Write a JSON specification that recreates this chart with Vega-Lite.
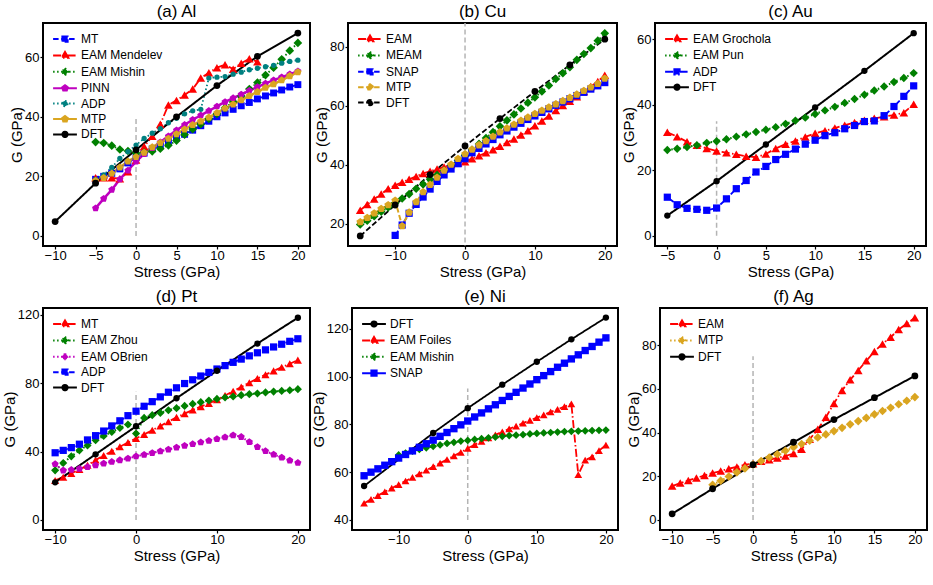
{
"$schema": "https://vega.github.io/schema/vega-lite/v6.json",
"background": "white",
"padding": {"left": 1, "top": 2, "right": 0, "bottom": 0},
"datasets": {
"A": [
{"s":"MT","x":-5,"g":19},{"s":"MT","x":-4,"g":20},{"s":"MT","x":-3,"g":21},{"s":"MT","x":-2,"g":22.5},{"s":"MT","x":-1,"g":24.5},{"s":"MT","x":0,"g":26.3},{"s":"MT","x":1,"g":27.8},{"s":"MT","x":2,"g":29.2},{"s":"MT","x":3,"g":30.5},{"s":"MT","x":4,"g":31.7},{"s":"MT","x":5,"g":32.9},{"s":"MT","x":6,"g":34.1},{"s":"MT","x":7,"g":35.5},{"s":"MT","x":8,"g":37},{"s":"MT","x":9,"g":38.5},{"s":"MT","x":10,"g":40},{"s":"MT","x":11,"g":41.3},{"s":"MT","x":12,"g":42.5},{"s":"MT","x":13,"g":43.7},{"s":"MT","x":14,"g":44.8},{"s":"MT","x":15,"g":46},{"s":"MT","x":16,"g":47},{"s":"MT","x":17,"g":48},{"s":"MT","x":18,"g":49},{"s":"MT","x":19,"g":50},{"s":"MT","x":20,"g":50.8},
{"s":"EAM Mendelev","x":-5,"g":19.5},{"s":"EAM Mendelev","x":-4,"g":19.5},{"s":"EAM Mendelev","x":-3,"g":19.5},{"s":"EAM Mendelev","x":-2,"g":19.2},{"s":"EAM Mendelev","x":-1,"g":21.5},{"s":"EAM Mendelev","x":0,"g":25.5},{"s":"EAM Mendelev","x":1,"g":30},{"s":"EAM Mendelev","x":2,"g":33.5},{"s":"EAM Mendelev","x":3,"g":37.5},{"s":"EAM Mendelev","x":4,"g":44},{"s":"EAM Mendelev","x":5,"g":45.5},{"s":"EAM Mendelev","x":6,"g":47.3},{"s":"EAM Mendelev","x":7,"g":49.3},{"s":"EAM Mendelev","x":8,"g":53},{"s":"EAM Mendelev","x":9,"g":54.8},{"s":"EAM Mendelev","x":10,"g":56.5},{"s":"EAM Mendelev","x":11,"g":57.5},{"s":"EAM Mendelev","x":12,"g":56},{"s":"EAM Mendelev","x":13,"g":58},{"s":"EAM Mendelev","x":14,"g":59.5},{"s":"EAM Mendelev","x":15,"g":58.5},
{"s":"EAM Mishin","x":-5,"g":31.5},{"s":"EAM Mishin","x":-4,"g":31.2},{"s":"EAM Mishin","x":-3,"g":30.3},{"s":"EAM Mishin","x":-2,"g":29},{"s":"EAM Mishin","x":-1,"g":28.5},{"s":"EAM Mishin","x":0,"g":27.8},{"s":"EAM Mishin","x":1,"g":28},{"s":"EAM Mishin","x":2,"g":28.4},{"s":"EAM Mishin","x":3,"g":29.3},{"s":"EAM Mishin","x":4,"g":30.4},{"s":"EAM Mishin","x":5,"g":32},{"s":"EAM Mishin","x":6,"g":34},{"s":"EAM Mishin","x":7,"g":35.8},{"s":"EAM Mishin","x":8,"g":37.5},{"s":"EAM Mishin","x":9,"g":39.3},{"s":"EAM Mishin","x":10,"g":41},{"s":"EAM Mishin","x":11,"g":43},{"s":"EAM Mishin","x":12,"g":45},{"s":"EAM Mishin","x":13,"g":47},{"s":"EAM Mishin","x":14,"g":49.3},{"s":"EAM Mishin","x":15,"g":51.5},{"s":"EAM Mishin","x":16,"g":54},{"s":"EAM Mishin","x":17,"g":56.5},{"s":"EAM Mishin","x":18,"g":59.3},{"s":"EAM Mishin","x":19,"g":62.2},{"s":"EAM Mishin","x":20,"g":64.8},
{"s":"PINN","x":-5,"g":9.3},{"s":"PINN","x":-4,"g":12.5},{"s":"PINN","x":-3,"g":15.5},{"s":"PINN","x":-2,"g":19},{"s":"PINN","x":-1,"g":22},{"s":"PINN","x":0,"g":25},{"s":"PINN","x":1,"g":27.5},{"s":"PINN","x":2,"g":29.5},{"s":"PINN","x":3,"g":31.5},{"s":"PINN","x":4,"g":33.5},{"s":"PINN","x":5,"g":35.5},{"s":"PINN","x":6,"g":37.3},{"s":"PINN","x":7,"g":39},{"s":"PINN","x":8,"g":40.5},{"s":"PINN","x":9,"g":42},{"s":"PINN","x":10,"g":43.5},{"s":"PINN","x":11,"g":45},{"s":"PINN","x":12,"g":46.3},{"s":"PINN","x":13,"g":47.5},{"s":"PINN","x":14,"g":48.8},{"s":"PINN","x":15,"g":50},{"s":"PINN","x":16,"g":51.2},{"s":"PINN","x":17,"g":52.3},{"s":"PINN","x":18,"g":53.3},{"s":"PINN","x":19,"g":54.3},{"s":"PINN","x":20,"g":55.3},
{"s":"ADP","x":-5,"g":19},{"s":"ADP","x":-4,"g":20.5},{"s":"ADP","x":-3,"g":23},{"s":"ADP","x":-2,"g":26},{"s":"ADP","x":-1,"g":28.3},{"s":"ADP","x":0,"g":30.5},{"s":"ADP","x":1,"g":32.7},{"s":"ADP","x":2,"g":34.5},{"s":"ADP","x":3,"g":36},{"s":"ADP","x":4,"g":38},{"s":"ADP","x":5,"g":39.5},{"s":"ADP","x":6,"g":41},{"s":"ADP","x":7,"g":42},{"s":"ADP","x":8,"g":42.5},{"s":"ADP","x":9,"g":53},{"s":"ADP","x":10,"g":53.3},{"s":"ADP","x":11,"g":53.5},{"s":"ADP","x":12,"g":54.3},{"s":"ADP","x":13,"g":55},{"s":"ADP","x":14,"g":55.8},{"s":"ADP","x":15,"g":56.3},{"s":"ADP","x":16,"g":56.8},{"s":"ADP","x":17,"g":57.3},{"s":"ADP","x":18,"g":58},{"s":"ADP","x":19,"g":58.6},{"s":"ADP","x":20,"g":59},
{"s":"MTP","x":-5,"g":18.5},{"s":"MTP","x":-4,"g":19.5},{"s":"MTP","x":-3,"g":21},{"s":"MTP","x":-2,"g":23},{"s":"MTP","x":-1,"g":25},{"s":"MTP","x":0,"g":26.5},{"s":"MTP","x":1,"g":28},{"s":"MTP","x":2,"g":29.8},{"s":"MTP","x":3,"g":31.2},{"s":"MTP","x":4,"g":32.7},{"s":"MTP","x":5,"g":34.2},{"s":"MTP","x":6,"g":35.8},{"s":"MTP","x":7,"g":37.3},{"s":"MTP","x":8,"g":38.5},{"s":"MTP","x":9,"g":39.8},{"s":"MTP","x":10,"g":41.3},{"s":"MTP","x":11,"g":42.8},{"s":"MTP","x":12,"g":44.2},{"s":"MTP","x":13,"g":45.6},{"s":"MTP","x":14,"g":47},{"s":"MTP","x":15,"g":48.4},{"s":"MTP","x":16,"g":49.8},{"s":"MTP","x":17,"g":51},{"s":"MTP","x":18,"g":52.3},{"s":"MTP","x":19,"g":53.7},{"s":"MTP","x":20,"g":55},
{"s":"DFT","x":-10,"g":4.8},{"s":"DFT","x":-5,"g":17.7},{"s":"DFT","x":0,"g":28.9},{"s":"DFT","x":5,"g":40},{"s":"DFT","x":10,"g":50.5},{"s":"DFT","x":15,"g":60.3},{"s":"DFT","x":20,"g":68.1}
],
"B": [
{"s":"EAM","x":-15,"g":24.5},{"s":"EAM","x":-14,"g":26.5},{"s":"EAM","x":-13,"g":28.3},{"s":"EAM","x":-12,"g":30},{"s":"EAM","x":-11,"g":31.8},{"s":"EAM","x":-10,"g":33},{"s":"EAM","x":-9,"g":34},{"s":"EAM","x":-8,"g":35},{"s":"EAM","x":-7,"g":36},{"s":"EAM","x":-6,"g":37},{"s":"EAM","x":-5,"g":37.7},{"s":"EAM","x":-4,"g":38.5},{"s":"EAM","x":-3,"g":39.2},{"s":"EAM","x":-2,"g":40},{"s":"EAM","x":-1,"g":40.5},{"s":"EAM","x":0,"g":41},{"s":"EAM","x":1,"g":42},{"s":"EAM","x":2,"g":43},{"s":"EAM","x":3,"g":44},{"s":"EAM","x":4,"g":45},{"s":"EAM","x":5,"g":46.2},{"s":"EAM","x":6,"g":47.5},{"s":"EAM","x":7,"g":48.7},{"s":"EAM","x":8,"g":50},{"s":"EAM","x":9,"g":51.5},{"s":"EAM","x":10,"g":53.2},{"s":"EAM","x":11,"g":54.8},{"s":"EAM","x":12,"g":56.5},{"s":"EAM","x":13,"g":58.3},{"s":"EAM","x":14,"g":60},{"s":"EAM","x":15,"g":61.5},{"s":"EAM","x":16,"g":63},{"s":"EAM","x":17,"g":64.8},{"s":"EAM","x":18,"g":66.5},{"s":"EAM","x":19,"g":68.2},{"s":"EAM","x":20,"g":70.3},
{"s":"MEAM","x":-15,"g":19.7},{"s":"MEAM","x":-14,"g":21},{"s":"MEAM","x":-13,"g":22.5},{"s":"MEAM","x":-12,"g":24},{"s":"MEAM","x":-11,"g":25.5},{"s":"MEAM","x":-10,"g":27},{"s":"MEAM","x":-9,"g":28.5},{"s":"MEAM","x":-8,"g":30},{"s":"MEAM","x":-7,"g":31.8},{"s":"MEAM","x":-6,"g":33.3},{"s":"MEAM","x":-5,"g":35},{"s":"MEAM","x":-4,"g":36.5},{"s":"MEAM","x":-3,"g":38},{"s":"MEAM","x":-2,"g":39.8},{"s":"MEAM","x":-1,"g":41.5},{"s":"MEAM","x":0,"g":43.2},{"s":"MEAM","x":1,"g":45},{"s":"MEAM","x":2,"g":47},{"s":"MEAM","x":3,"g":49},{"s":"MEAM","x":4,"g":51},{"s":"MEAM","x":5,"g":53},{"s":"MEAM","x":6,"g":55},{"s":"MEAM","x":7,"g":57},{"s":"MEAM","x":8,"g":59},{"s":"MEAM","x":9,"g":61},{"s":"MEAM","x":10,"g":62.8},{"s":"MEAM","x":11,"g":64.8},{"s":"MEAM","x":12,"g":66.8},{"s":"MEAM","x":13,"g":69},{"s":"MEAM","x":14,"g":71},{"s":"MEAM","x":15,"g":73},{"s":"MEAM","x":16,"g":75.5},{"s":"MEAM","x":17,"g":77.5},{"s":"MEAM","x":18,"g":79.5},{"s":"MEAM","x":19,"g":82},{"s":"MEAM","x":20,"g":84.5},
{"s":"SNAP","x":-10,"g":16},{"s":"SNAP","x":-9,"g":19.5},{"s":"SNAP","x":-8,"g":23.5},{"s":"SNAP","x":-7,"g":26.5},{"s":"SNAP","x":-6,"g":29},{"s":"SNAP","x":-5,"g":31.7},{"s":"SNAP","x":-4,"g":34.3},{"s":"SNAP","x":-3,"g":36.5},{"s":"SNAP","x":-2,"g":38.5},{"s":"SNAP","x":-1,"g":40.3},{"s":"SNAP","x":0,"g":42},{"s":"SNAP","x":1,"g":44},{"s":"SNAP","x":2,"g":45.5},{"s":"SNAP","x":3,"g":47},{"s":"SNAP","x":4,"g":48.5},{"s":"SNAP","x":5,"g":50.1},{"s":"SNAP","x":6,"g":51.4},{"s":"SNAP","x":7,"g":52.7},{"s":"SNAP","x":8,"g":54},{"s":"SNAP","x":9,"g":55.3},{"s":"SNAP","x":10,"g":56.5},{"s":"SNAP","x":11,"g":57.7},{"s":"SNAP","x":12,"g":58.9},{"s":"SNAP","x":13,"g":60.1},{"s":"SNAP","x":14,"g":61.2},{"s":"SNAP","x":15,"g":62.3},{"s":"SNAP","x":16,"g":63.4},{"s":"SNAP","x":17,"g":64.5},{"s":"SNAP","x":18,"g":65.6},{"s":"SNAP","x":19,"g":66.7},{"s":"SNAP","x":20,"g":67.8},
{"s":"MTP","x":-15,"g":20.5},{"s":"MTP","x":-14,"g":22},{"s":"MTP","x":-13,"g":23.5},{"s":"MTP","x":-12,"g":25},{"s":"MTP","x":-11,"g":26.3},{"s":"MTP","x":-10,"g":27.8},{"s":"MTP","x":-9,"g":19.2},{"s":"MTP","x":-8,"g":23.8},{"s":"MTP","x":-7,"g":27.3},{"s":"MTP","x":-6,"g":30.7},{"s":"MTP","x":-5,"g":33.2},{"s":"MTP","x":-4,"g":35.6},{"s":"MTP","x":-3,"g":38},{"s":"MTP","x":-2,"g":40},{"s":"MTP","x":-1,"g":42},{"s":"MTP","x":0,"g":43.6},{"s":"MTP","x":1,"g":45.1},{"s":"MTP","x":2,"g":46.6},{"s":"MTP","x":3,"g":48},{"s":"MTP","x":4,"g":49.5},{"s":"MTP","x":5,"g":51},{"s":"MTP","x":6,"g":52.3},{"s":"MTP","x":7,"g":53.6},{"s":"MTP","x":8,"g":54.9},{"s":"MTP","x":9,"g":56},{"s":"MTP","x":10,"g":57.2},{"s":"MTP","x":11,"g":58.3},{"s":"MTP","x":12,"g":59.4},{"s":"MTP","x":13,"g":60.5},{"s":"MTP","x":14,"g":61.6},{"s":"MTP","x":15,"g":62.7},{"s":"MTP","x":16,"g":63.8},{"s":"MTP","x":17,"g":65},{"s":"MTP","x":18,"g":66.2},{"s":"MTP","x":19,"g":67.4},{"s":"MTP","x":20,"g":69.2},
{"s":"DFT","x":-15,"g":15.8},{"s":"DFT","x":-10,"g":26.3},{"s":"DFT","x":-5,"g":36.6},{"s":"DFT","x":0,"g":46.3},{"s":"DFT","x":5,"g":55.6},{"s":"DFT","x":10,"g":64.8},{"s":"DFT","x":15,"g":73.8},{"s":"DFT","x":20,"g":82.5}
],
"C": [
{"s":"EAM Grochola","x":-5,"g":31.6},{"s":"EAM Grochola","x":-4,"g":30.3},{"s":"EAM Grochola","x":-3,"g":28.7},{"s":"EAM Grochola","x":-2,"g":27.7},{"s":"EAM Grochola","x":-1,"g":26.7},{"s":"EAM Grochola","x":0,"g":25.9},{"s":"EAM Grochola","x":1,"g":25.4},{"s":"EAM Grochola","x":2,"g":24.9},{"s":"EAM Grochola","x":3,"g":24.3},{"s":"EAM Grochola","x":4,"g":24},{"s":"EAM Grochola","x":5,"g":25},{"s":"EAM Grochola","x":6,"g":26.7},{"s":"EAM Grochola","x":7,"g":28},{"s":"EAM Grochola","x":8,"g":29},{"s":"EAM Grochola","x":9,"g":30.2},{"s":"EAM Grochola","x":10,"g":31.3},{"s":"EAM Grochola","x":11,"g":32.1},{"s":"EAM Grochola","x":12,"g":32.9},{"s":"EAM Grochola","x":13,"g":33.8},{"s":"EAM Grochola","x":14,"g":34.6},{"s":"EAM Grochola","x":15,"g":35.3},{"s":"EAM Grochola","x":16,"g":35.9},{"s":"EAM Grochola","x":17,"g":36.4},{"s":"EAM Grochola","x":18,"g":36.9},{"s":"EAM Grochola","x":19,"g":37.6},{"s":"EAM Grochola","x":20,"g":40.2},
{"s":"EAM Pun","x":-5,"g":26.2},{"s":"EAM Pun","x":-4,"g":26.6},{"s":"EAM Pun","x":-3,"g":27.1},{"s":"EAM Pun","x":-2,"g":27.7},{"s":"EAM Pun","x":-1,"g":28.4},{"s":"EAM Pun","x":0,"g":28.9},{"s":"EAM Pun","x":1,"g":29.5},{"s":"EAM Pun","x":2,"g":30.3},{"s":"EAM Pun","x":3,"g":31},{"s":"EAM Pun","x":4,"g":31.7},{"s":"EAM Pun","x":5,"g":32.4},{"s":"EAM Pun","x":6,"g":33.2},{"s":"EAM Pun","x":7,"g":34.2},{"s":"EAM Pun","x":8,"g":35.2},{"s":"EAM Pun","x":9,"g":36.1},{"s":"EAM Pun","x":10,"g":37.2},{"s":"EAM Pun","x":11,"g":38.3},{"s":"EAM Pun","x":12,"g":39.4},{"s":"EAM Pun","x":13,"g":40.6},{"s":"EAM Pun","x":14,"g":41.8},{"s":"EAM Pun","x":15,"g":43.1},{"s":"EAM Pun","x":16,"g":44.4},{"s":"EAM Pun","x":17,"g":45.6},{"s":"EAM Pun","x":18,"g":47},{"s":"EAM Pun","x":19,"g":48.2},{"s":"EAM Pun","x":20,"g":49.7},
{"s":"ADP","x":-5,"g":11.8},{"s":"ADP","x":-4,"g":9.5},{"s":"ADP","x":-3,"g":8.4},{"s":"ADP","x":-2,"g":8.1},{"s":"ADP","x":-1,"g":7.8},{"s":"ADP","x":0,"g":8.5},{"s":"ADP","x":1,"g":11.3},{"s":"ADP","x":2,"g":14.4},{"s":"ADP","x":3,"g":16.9},{"s":"ADP","x":4,"g":19.5},{"s":"ADP","x":5,"g":21.2},{"s":"ADP","x":6,"g":23.3},{"s":"ADP","x":7,"g":24.9},{"s":"ADP","x":8,"g":26.5},{"s":"ADP","x":9,"g":28},{"s":"ADP","x":10,"g":29.2},{"s":"ADP","x":11,"g":30.6},{"s":"ADP","x":12,"g":31.5},{"s":"ADP","x":13,"g":32.7},{"s":"ADP","x":14,"g":33.7},{"s":"ADP","x":15,"g":34.9},{"s":"ADP","x":16,"g":35.1},{"s":"ADP","x":17,"g":36.7},{"s":"ADP","x":18,"g":39.5},{"s":"ADP","x":19,"g":42.6},{"s":"ADP","x":20,"g":45.8},
{"s":"DFT","x":-5,"g":6.2},{"s":"DFT","x":0,"g":16.7},{"s":"DFT","x":5,"g":27.9},{"s":"DFT","x":10,"g":39.2},{"s":"DFT","x":15,"g":50.4},{"s":"DFT","x":20,"g":61.9}
],
"D": [
{"s":"MT","x":-10,"g":23.1},{"s":"MT","x":-9,"g":25},{"s":"MT","x":-8,"g":27.2},{"s":"MT","x":-7,"g":29.5},{"s":"MT","x":-6,"g":32},{"s":"MT","x":-5,"g":35},{"s":"MT","x":-4,"g":37.7},{"s":"MT","x":-3,"g":40.2},{"s":"MT","x":-2,"g":42.8},{"s":"MT","x":-1,"g":45.3},{"s":"MT","x":0,"g":47.7},{"s":"MT","x":1,"g":50},{"s":"MT","x":2,"g":52.5},{"s":"MT","x":3,"g":55},{"s":"MT","x":4,"g":57.5},{"s":"MT","x":5,"g":60},{"s":"MT","x":6,"g":62.2},{"s":"MT","x":7,"g":64.3},{"s":"MT","x":8,"g":66.3},{"s":"MT","x":9,"g":68.2},{"s":"MT","x":10,"g":70.3},{"s":"MT","x":11,"g":72.8},{"s":"MT","x":12,"g":75.3},{"s":"MT","x":13,"g":77.8},{"s":"MT","x":14,"g":80.3},{"s":"MT","x":15,"g":82.8},{"s":"MT","x":16,"g":85},{"s":"MT","x":17,"g":87.2},{"s":"MT","x":18,"g":89.3},{"s":"MT","x":19,"g":91.4},{"s":"MT","x":20,"g":93.5},
{"s":"EAM Zhou","x":-10,"g":29},{"s":"EAM Zhou","x":-9,"g":33.3},{"s":"EAM Zhou","x":-8,"g":37.2},{"s":"EAM Zhou","x":-7,"g":40.7},{"s":"EAM Zhou","x":-6,"g":43.6},{"s":"EAM Zhou","x":-5,"g":46.6},{"s":"EAM Zhou","x":-4,"g":49.1},{"s":"EAM Zhou","x":-3,"g":51.5},{"s":"EAM Zhou","x":-2,"g":53.8},{"s":"EAM Zhou","x":-1,"g":55.8},{"s":"EAM Zhou","x":0,"g":50.5},{"s":"EAM Zhou","x":1,"g":59.7},{"s":"EAM Zhou","x":2,"g":61.3},{"s":"EAM Zhou","x":3,"g":62.6},{"s":"EAM Zhou","x":4,"g":64.2},{"s":"EAM Zhou","x":5,"g":65.4},{"s":"EAM Zhou","x":6,"g":66.7},{"s":"EAM Zhou","x":7,"g":67.9},{"s":"EAM Zhou","x":8,"g":68.9},{"s":"EAM Zhou","x":9,"g":69.9},{"s":"EAM Zhou","x":10,"g":70.8},{"s":"EAM Zhou","x":11,"g":71.6},{"s":"EAM Zhou","x":12,"g":72.2},{"s":"EAM Zhou","x":13,"g":73},{"s":"EAM Zhou","x":14,"g":73.6},{"s":"EAM Zhou","x":15,"g":74},{"s":"EAM Zhou","x":16,"g":74.6},{"s":"EAM Zhou","x":17,"g":75.1},{"s":"EAM Zhou","x":18,"g":75.5},{"s":"EAM Zhou","x":19,"g":75.9},{"s":"EAM Zhou","x":20,"g":76.5},
{"s":"EAM OBrien","x":-10,"g":32.7},{"s":"EAM OBrien","x":-9,"g":29},{"s":"EAM OBrien","x":-8,"g":29.3},{"s":"EAM OBrien","x":-7,"g":30},{"s":"EAM OBrien","x":-6,"g":31},{"s":"EAM OBrien","x":-5,"g":32},{"s":"EAM OBrien","x":-4,"g":33},{"s":"EAM OBrien","x":-3,"g":34},{"s":"EAM OBrien","x":-2,"g":35},{"s":"EAM OBrien","x":-1,"g":36},{"s":"EAM OBrien","x":0,"g":37.2},{"s":"EAM OBrien","x":1,"g":38.2},{"s":"EAM OBrien","x":2,"g":39.2},{"s":"EAM OBrien","x":3,"g":40.2},{"s":"EAM OBrien","x":4,"g":41.2},{"s":"EAM OBrien","x":5,"g":42.4},{"s":"EAM OBrien","x":6,"g":43.4},{"s":"EAM OBrien","x":7,"g":44.4},{"s":"EAM OBrien","x":8,"g":45.4},{"s":"EAM OBrien","x":9,"g":46.4},{"s":"EAM OBrien","x":10,"g":47.4},{"s":"EAM OBrien","x":11,"g":48.4},{"s":"EAM OBrien","x":12,"g":49.6},{"s":"EAM OBrien","x":13,"g":48.6},{"s":"EAM OBrien","x":14,"g":45.6},{"s":"EAM OBrien","x":15,"g":42.7},{"s":"EAM OBrien","x":16,"g":40.3},{"s":"EAM OBrien","x":17,"g":38.3},{"s":"EAM OBrien","x":18,"g":36.6},{"s":"EAM OBrien","x":19,"g":34.8},{"s":"EAM OBrien","x":20,"g":33.4},
{"s":"ADP","x":-10,"g":39.3},{"s":"ADP","x":-9,"g":40.7},{"s":"ADP","x":-8,"g":42.3},{"s":"ADP","x":-7,"g":44.3},{"s":"ADP","x":-6,"g":46.8},{"s":"ADP","x":-5,"g":49.3},{"s":"ADP","x":-4,"g":52},{"s":"ADP","x":-3,"g":55},{"s":"ADP","x":-2,"g":58},{"s":"ADP","x":-1,"g":61},{"s":"ADP","x":0,"g":63.6},{"s":"ADP","x":1,"g":66.5},{"s":"ADP","x":2,"g":69.2},{"s":"ADP","x":3,"g":72},{"s":"ADP","x":4,"g":74.7},{"s":"ADP","x":5,"g":77.3},{"s":"ADP","x":6,"g":79.8},{"s":"ADP","x":7,"g":82},{"s":"ADP","x":8,"g":84.2},{"s":"ADP","x":9,"g":86.3},{"s":"ADP","x":10,"g":88.3},{"s":"ADP","x":11,"g":90.3},{"s":"ADP","x":12,"g":92.2},{"s":"ADP","x":13,"g":94.1},{"s":"ADP","x":14,"g":96},{"s":"ADP","x":15,"g":97.8},{"s":"ADP","x":16,"g":99.5},{"s":"ADP","x":17,"g":101.2},{"s":"ADP","x":18,"g":102.8},{"s":"ADP","x":19,"g":104.5},{"s":"ADP","x":20,"g":106},
{"s":"DFT","x":-10,"g":22},{"s":"DFT","x":-5,"g":38.4},{"s":"DFT","x":0,"g":54.8},{"s":"DFT","x":5,"g":71.2},{"s":"DFT","x":10,"g":87.3},{"s":"DFT","x":15,"g":103.2},{"s":"DFT","x":20,"g":118.3}
],
"E": [
{"s":"EAM Foiles","x":-15,"g":47},{"s":"EAM Foiles","x":-14,"g":48.6},{"s":"EAM Foiles","x":-13,"g":50.2},{"s":"EAM Foiles","x":-12,"g":51.8},{"s":"EAM Foiles","x":-11,"g":53.3},{"s":"EAM Foiles","x":-10,"g":54.8},{"s":"EAM Foiles","x":-9,"g":56.3},{"s":"EAM Foiles","x":-8,"g":57.8},{"s":"EAM Foiles","x":-7,"g":59.3},{"s":"EAM Foiles","x":-6,"g":60.8},{"s":"EAM Foiles","x":-5,"g":62.3},{"s":"EAM Foiles","x":-4,"g":63.8},{"s":"EAM Foiles","x":-3,"g":65.3},{"s":"EAM Foiles","x":-2,"g":66.8},{"s":"EAM Foiles","x":-1,"g":68.3},{"s":"EAM Foiles","x":0,"g":70},{"s":"EAM Foiles","x":1,"g":71.5},{"s":"EAM Foiles","x":2,"g":72.9},{"s":"EAM Foiles","x":3,"g":74.3},{"s":"EAM Foiles","x":4,"g":75.6},{"s":"EAM Foiles","x":5,"g":76.9},{"s":"EAM Foiles","x":6,"g":78.1},{"s":"EAM Foiles","x":7,"g":79.3},{"s":"EAM Foiles","x":8,"g":80.5},{"s":"EAM Foiles","x":9,"g":81.7},{"s":"EAM Foiles","x":10,"g":82.8},{"s":"EAM Foiles","x":11,"g":84},{"s":"EAM Foiles","x":12,"g":85.2},{"s":"EAM Foiles","x":13,"g":86.3},{"s":"EAM Foiles","x":14,"g":87.4},{"s":"EAM Foiles","x":15,"g":88.6},{"s":"EAM Foiles","x":16,"g":59},{"s":"EAM Foiles","x":17,"g":65},{"s":"EAM Foiles","x":18,"g":66.4},{"s":"EAM Foiles","x":19,"g":69},{"s":"EAM Foiles","x":20,"g":71.3},
{"s":"EAM Mishin","x":-10,"g":67.2},{"s":"EAM Mishin","x":-9,"g":68},{"s":"EAM Mishin","x":-8,"g":68.8},{"s":"EAM Mishin","x":-7,"g":69.5},{"s":"EAM Mishin","x":-6,"g":70.2},{"s":"EAM Mishin","x":-5,"g":70.8},{"s":"EAM Mishin","x":-4,"g":71.4},{"s":"EAM Mishin","x":-3,"g":72},{"s":"EAM Mishin","x":-2,"g":72.5},{"s":"EAM Mishin","x":-1,"g":73},{"s":"EAM Mishin","x":0,"g":73.3},{"s":"EAM Mishin","x":1,"g":73.7},{"s":"EAM Mishin","x":2,"g":74},{"s":"EAM Mishin","x":3,"g":74.4},{"s":"EAM Mishin","x":4,"g":74.7},{"s":"EAM Mishin","x":5,"g":75},{"s":"EAM Mishin","x":6,"g":75.3},{"s":"EAM Mishin","x":7,"g":75.5},{"s":"EAM Mishin","x":8,"g":75.7},{"s":"EAM Mishin","x":9,"g":76},{"s":"EAM Mishin","x":10,"g":76.2},{"s":"EAM Mishin","x":11,"g":76.4},{"s":"EAM Mishin","x":12,"g":76.6},{"s":"EAM Mishin","x":13,"g":76.8},{"s":"EAM Mishin","x":14,"g":77},{"s":"EAM Mishin","x":15,"g":77.1},{"s":"EAM Mishin","x":16,"g":77.2},{"s":"EAM Mishin","x":17,"g":77.3},{"s":"EAM Mishin","x":18,"g":77.4},{"s":"EAM Mishin","x":19,"g":77.5},{"s":"EAM Mishin","x":20,"g":77.6},
{"s":"SNAP","x":-15,"g":58.5},{"s":"SNAP","x":-14,"g":60},{"s":"SNAP","x":-13,"g":61.4},{"s":"SNAP","x":-12,"g":62.9},{"s":"SNAP","x":-11,"g":64.4},{"s":"SNAP","x":-10,"g":65.9},{"s":"SNAP","x":-9,"g":67.4},{"s":"SNAP","x":-8,"g":68.9},{"s":"SNAP","x":-7,"g":70.4},{"s":"SNAP","x":-6,"g":71.9},{"s":"SNAP","x":-5,"g":73.4},{"s":"SNAP","x":-4,"g":75},{"s":"SNAP","x":-3,"g":76.6},{"s":"SNAP","x":-2,"g":78.2},{"s":"SNAP","x":-1,"g":79.8},{"s":"SNAP","x":0,"g":81.4},{"s":"SNAP","x":1,"g":83.1},{"s":"SNAP","x":2,"g":84.8},{"s":"SNAP","x":3,"g":86.5},{"s":"SNAP","x":4,"g":88.2},{"s":"SNAP","x":5,"g":90},{"s":"SNAP","x":6,"g":91.7},{"s":"SNAP","x":7,"g":93.4},{"s":"SNAP","x":8,"g":95.2},{"s":"SNAP","x":9,"g":96.9},{"s":"SNAP","x":10,"g":98.7},{"s":"SNAP","x":11,"g":100.4},{"s":"SNAP","x":12,"g":102.1},{"s":"SNAP","x":13,"g":103.9},{"s":"SNAP","x":14,"g":105.6},{"s":"SNAP","x":15,"g":107.4},{"s":"SNAP","x":16,"g":109.1},{"s":"SNAP","x":17,"g":110.9},{"s":"SNAP","x":18,"g":112.6},{"s":"SNAP","x":19,"g":114.4},{"s":"SNAP","x":20,"g":116.2},
{"s":"DFT","x":-15,"g":54.2},{"s":"DFT","x":-5,"g":76.4},{"s":"DFT","x":0,"g":86.8},{"s":"DFT","x":5,"g":96.6},{"s":"DFT","x":10,"g":106.2},{"s":"DFT","x":15,"g":115.6},{"s":"DFT","x":20,"g":124.7}
],
"F": [
{"s":"EAM","x":-10,"g":15.5},{"s":"EAM","x":-9,"g":16.9},{"s":"EAM","x":-8,"g":18.1},{"s":"EAM","x":-7,"g":19.2},{"s":"EAM","x":-6,"g":20.4},{"s":"EAM","x":-5,"g":21.5},{"s":"EAM","x":-4,"g":22.4},{"s":"EAM","x":-3,"g":23.5},{"s":"EAM","x":-2,"g":24.3},{"s":"EAM","x":-1,"g":25.3},{"s":"EAM","x":0,"g":25.8},{"s":"EAM","x":1,"g":26.9},{"s":"EAM","x":2,"g":27.6},{"s":"EAM","x":3,"g":28.4},{"s":"EAM","x":4,"g":29.3},{"s":"EAM","x":5,"g":30.4},{"s":"EAM","x":6,"g":32.4},{"s":"EAM","x":7,"g":37},{"s":"EAM","x":8,"g":41.5},{"s":"EAM","x":9,"g":47},{"s":"EAM","x":10,"g":53.4},{"s":"EAM","x":11,"g":59.3},{"s":"EAM","x":12,"g":64.2},{"s":"EAM","x":13,"g":68.5},{"s":"EAM","x":14,"g":72.9},{"s":"EAM","x":15,"g":77.2},{"s":"EAM","x":16,"g":80.6},{"s":"EAM","x":17,"g":83.7},{"s":"EAM","x":18,"g":87.2},{"s":"EAM","x":19,"g":90},{"s":"EAM","x":20,"g":92.6},
{"s":"MTP","x":-5,"g":16.1},{"s":"MTP","x":-4,"g":18},{"s":"MTP","x":-3,"g":19.9},{"s":"MTP","x":-2,"g":21.8},{"s":"MTP","x":-1,"g":23.6},{"s":"MTP","x":0,"g":25.4},{"s":"MTP","x":1,"g":27},{"s":"MTP","x":2,"g":28.6},{"s":"MTP","x":3,"g":30.1},{"s":"MTP","x":4,"g":31.7},{"s":"MTP","x":5,"g":33.3},{"s":"MTP","x":6,"g":34.8},{"s":"MTP","x":7,"g":36.3},{"s":"MTP","x":8,"g":37.8},{"s":"MTP","x":9,"g":39.2},{"s":"MTP","x":10,"g":40.7},{"s":"MTP","x":11,"g":42.2},{"s":"MTP","x":12,"g":43.8},{"s":"MTP","x":13,"g":45.3},{"s":"MTP","x":14,"g":46.8},{"s":"MTP","x":15,"g":48.4},{"s":"MTP","x":16,"g":49.9},{"s":"MTP","x":17,"g":51.4},{"s":"MTP","x":18,"g":53},{"s":"MTP","x":19,"g":54.6},{"s":"MTP","x":20,"g":56.3},
{"s":"DFT","x":-10,"g":2.8},{"s":"DFT","x":-5,"g":14.3},{"s":"DFT","x":0,"g":25.3},{"s":"DFT","x":5,"g":35.6},{"s":"DFT","x":10,"g":46},{"s":"DFT","x":15,"g":56},{"s":"DFT","x":20,"g":66}
]
},
"concat": [
{"hconcat": [
{"width": 267, "height": 223, "title": "(a) Al", "data": {"name": "A"},
 "layer": [
  {"data": {"values": [{}]}, "mark": {"type": "rule", "color": "#b4b4b4", "strokeDash": [5, 3], "strokeWidth": 1.5, "clip": true},
   "encoding": {"x": {"datum": 0, "type": "quantitative"}, "y": {"datum": 0, "type": "quantitative"}, "y2": {"datum": 40}}},
  {"mark": {"type": "line", "clip": true},
   "encoding": {
    "x": {"field": "x", "type": "quantitative", "scale": {"domain": [-11.5, 21.5], "nice": false, "zero": false}, "axis": {"values": [-10, -5, 0, 5, 10, 15, 20], "title": "Stress (GPa)"}},
    "y": {"field": "g", "type": "quantitative", "scale": {"domain": [-3.4, 71.5], "nice": false, "zero": false}, "axis": {"values": [0, 10, 20, 30, 40, 50, 60, 70], "title": "G (GPa)"}},
    "color": {"field": "s", "type": "nominal", "scale": {"domain": ["MT", "EAM Mendelev", "EAM Mishin", "PINN", "ADP", "MTP", "DFT"], "range": ["#0000ff", "#ff0000", "#008000", "#bf00bf", "#008080", "#daa520", "#000000"]},
     "legend": {"title": null, "orient": "top-left", "encode": {"symbols": {"update": {
      "shape": {"signal": "['M-3.4,0H3.4M-0.75,-0.75H0.75V0.75H-0.75Z','M-3.4,0H3.4M0,-1L0.95,0.65H-0.95Z','M-3.4,0H3.4M0,-1.05L0.9,0L0,1.05L-0.9,0Z','M-3.4,0H3.4M0,-0.85L0.81,-0.26L0.5,0.69L-0.5,0.69L-0.81,-0.26Z','M-3.4,0H3.4M0.75,0A0.75,0.75,0,1,1,-0.75,0A0.75,0.75,0,1,1,0.75,0Z','M-3.4,0H3.4M0,-0.85L0.81,-0.26L0.5,0.69L-0.5,0.69L-0.81,-0.26Z','M-3.4,0H3.4M0.75,0A0.75,0.75,0,1,1,-0.75,0A0.75,0.75,0,1,1,0.75,0Z'][indexof(['MT','EAM Mendelev','EAM Mishin','PINN','ADP','MTP','DFT'],datum.value)]"},
      "strokeDash": {"signal": "[[5.5,2.5],[8,2.5,1.5,2.5],[1.5,2.5],[1,0],[1.5,2.5],[1,0],[1,0]][indexof(['MT','EAM Mendelev','EAM Mishin','PINN','ADP','MTP','DFT'],datum.value)]"},
      "fill": {"signal": "['#0000ff','#ff0000','#008000','#bf00bf','#008080','#daa520','#000000'][indexof(['MT','EAM Mendelev','EAM Mishin','PINN','ADP','MTP','DFT'],datum.value)]"},
      "stroke": {"signal": "['#0000ff','#ff0000','#008000','#bf00bf','#008080','#daa520','#000000'][indexof(['MT','EAM Mendelev','EAM Mishin','PINN','ADP','MTP','DFT'],datum.value)]"},
      "strokeWidth": {"value": 2}, "size": {"value": 49}, "opacity": {"value": 1}}}}}},
    "strokeDash": {"condition": [{"test": "datum.s==='MT'", "value": [5.5, 2.5]}, {"test": "datum.s==='EAM Mendelev'", "value": [8, 2.5, 1.5, 2.5]}, {"test": "datum.s==='EAM Mishin' || datum.s==='ADP'", "value": [1.5, 2.5]}], "value": [1, 0]},
    "strokeWidth": {"condition": [{"test": "datum.s==='PINN'", "value": 2.5}, {"test": "datum.s==='MTP'", "value": 2.6}, {"test": "datum.s==='DFT'", "value": 2}], "value": 1.8}
   }},
  {"mark": {"type": "point", "filled": true, "opacity": 1},
   "encoding": {
    "x": {"field": "x", "type": "quantitative"},
    "y": {"field": "g", "type": "quantitative"},
    "color": {"field": "s", "type": "nominal"},
    "shape": {"condition": [{"test": "datum.s==='MT'", "value": "square"}, {"test": "datum.s==='EAM Mendelev'", "value": "triangle-up"}, {"test": "datum.s==='EAM Mishin'", "value": "diamond"}, {"test": "datum.s==='PINN' || datum.s==='MTP'", "value": "M0,-1L0.951,-0.309L0.588,0.809L-0.588,0.809L-0.951,-0.309Z"}], "value": "circle"},
    "size": {"condition": [{"test": "datum.s==='MT'", "value": 48}, {"test": "datum.s==='EAM Mendelev' || datum.s==='EAM Mishin'", "value": 75}, {"test": "datum.s==='PINN'", "value": 55}, {"test": "datum.s==='ADP'", "value": 28}, {"test": "datum.s==='MTP'", "value": 60}], "value": 46}
   }}
 ]},
{"width": 269, "height": 223, "title": "(b) Cu", "data": {"name": "B"},
 "layer": [
  {"data": {"values": [{}]}, "mark": {"type": "rule", "color": "#b4b4b4", "strokeDash": [5, 3], "strokeWidth": 1.5, "clip": true},
   "encoding": {"x": {"datum": 0, "type": "quantitative"}, "y": {"datum": 0, "type": "quantitative"}, "y2": {"datum": 100}}},
  {"mark": {"type": "line", "clip": true},
   "encoding": {
    "x": {"field": "x", "type": "quantitative", "scale": {"domain": [-16.75, 21.75], "nice": false, "zero": false}, "axis": {"values": [-10, 0, 10, 20], "title": "Stress (GPa)"}},
    "y": {"field": "g", "type": "quantitative", "scale": {"domain": [12.4, 88], "nice": false, "zero": false}, "axis": {"values": [20, 30, 40, 50, 60, 70, 80], "title": "G (GPa)"}},
    "color": {"field": "s", "type": "nominal", "scale": {"domain": ["EAM", "MEAM", "SNAP", "MTP", "DFT"], "range": ["#ff0000", "#008000", "#0000ff", "#daa520", "#000000"]},
     "legend": {"title": null, "orient": "top-left", "encode": {"symbols": {"update": {
      "shape": {"signal": "['M-3.4,0H3.4M0,-1L0.95,0.65H-0.95Z','M-3.4,0H3.4M0,-1.05L0.9,0L0,1.05L-0.9,0Z','M-3.4,0H3.4M-0.75,-0.75H0.75V0.75H-0.75Z','M-3.4,0H3.4M0,-0.85L0.81,-0.26L0.5,0.69L-0.5,0.69L-0.81,-0.26Z','M-3.4,0H3.4M0.75,0A0.75,0.75,0,1,1,-0.75,0A0.75,0.75,0,1,1,0.75,0Z'][indexof(['EAM','MEAM','SNAP','MTP','DFT'],datum.value)]"},
      "strokeDash": {"signal": "[[8,2.5,1.5,2.5],[1.5,2.5],[5.5,2.5],[5.5,2.5],[5.5,2.5]][indexof(['EAM','MEAM','SNAP','MTP','DFT'],datum.value)]"},
      "fill": {"signal": "['#ff0000','#008000','#0000ff','#daa520','#000000'][indexof(['EAM','MEAM','SNAP','MTP','DFT'],datum.value)]"},
      "stroke": {"signal": "['#ff0000','#008000','#0000ff','#daa520','#000000'][indexof(['EAM','MEAM','SNAP','MTP','DFT'],datum.value)]"},
      "strokeWidth": {"value": 2}, "size": {"value": 49}, "opacity": {"value": 1}}}}}},
    "strokeDash": {"condition": [{"test": "datum.s==='EAM'", "value": [8, 2.5, 1.5, 2.5]}, {"test": "datum.s==='MEAM'", "value": [1.5, 2.5]}], "value": [5.5, 2.5]},
    "strokeWidth": {"condition": [{"test": "datum.s==='MEAM' || datum.s==='MTP'", "value": 2}], "value": 1.8}
   }},
  {"mark": {"type": "point", "filled": true, "opacity": 1},
   "encoding": {
    "x": {"field": "x", "type": "quantitative"},
    "y": {"field": "g", "type": "quantitative"},
    "color": {"field": "s", "type": "nominal"},
    "shape": {"condition": [{"test": "datum.s==='EAM'", "value": "triangle-up"}, {"test": "datum.s==='MEAM'", "value": "diamond"}, {"test": "datum.s==='SNAP'", "value": "square"}, {"test": "datum.s==='MTP'", "value": "M0,-1L0.951,-0.309L0.588,0.809L-0.588,0.809L-0.951,-0.309Z"}], "value": "circle"},
    "size": {"condition": [{"test": "datum.s==='EAM' || datum.s==='MEAM'", "value": 75}, {"test": "datum.s==='SNAP'", "value": 52}, {"test": "datum.s==='MTP'", "value": 65}], "value": 46}
   }}
 ]},
{"width": 271, "height": 223, "title": "(c) Au", "data": {"name": "C"},
 "layer": [
  {"data": {"values": [{}]}, "mark": {"type": "rule", "color": "#b4b4b4", "strokeDash": [5, 3], "strokeWidth": 1.5, "clip": true},
   "encoding": {"x": {"datum": 0, "type": "quantitative"}, "y": {"datum": 0, "type": "quantitative"}, "y2": {"datum": 35}}},
  {"mark": {"type": "line", "clip": true},
   "encoding": {
    "x": {"field": "x", "type": "quantitative", "scale": {"domain": [-6.25, 21.25], "nice": false, "zero": false}, "axis": {"values": [-5, 0, 5, 10, 15, 20], "title": "Stress (GPa)"}},
    "y": {"field": "g", "type": "quantitative", "scale": {"domain": [-3.1, 65], "nice": false, "zero": false}, "axis": {"values": [0, 10, 20, 30, 40, 50, 60], "title": "G (GPa)"}},
    "color": {"field": "s", "type": "nominal", "scale": {"domain": ["EAM Grochola", "EAM Pun", "ADP", "DFT"], "range": ["#ff0000", "#008000", "#0000ff", "#000000"]},
     "legend": {"title": null, "orient": "top-left", "encode": {"symbols": {"update": {
      "shape": {"signal": "['M-3.4,0H3.4M0,-1L0.95,0.65H-0.95Z','M-3.4,0H3.4M0,-1.05L0.9,0L0,1.05L-0.9,0Z','M-3.4,0H3.4M-0.75,-0.75H0.75V0.75H-0.75Z','M-3.4,0H3.4M0.75,0A0.75,0.75,0,1,1,-0.75,0A0.75,0.75,0,1,1,0.75,0Z'][indexof(['EAM Grochola','EAM Pun','ADP','DFT'],datum.value)]"},
      "strokeDash": {"signal": "[[8,2.5,1.5,2.5],[1.5,2.5],[8,2.5,1.5,2.5],[1,0]][indexof(['EAM Grochola','EAM Pun','ADP','DFT'],datum.value)]"},
      "fill": {"signal": "['#ff0000','#008000','#0000ff','#000000'][indexof(['EAM Grochola','EAM Pun','ADP','DFT'],datum.value)]"},
      "stroke": {"signal": "['#ff0000','#008000','#0000ff','#000000'][indexof(['EAM Grochola','EAM Pun','ADP','DFT'],datum.value)]"},
      "strokeWidth": {"value": 2}, "size": {"value": 49}, "opacity": {"value": 1}}}}}},
    "strokeDash": {"condition": [{"test": "datum.s==='EAM Grochola' || datum.s==='ADP'", "value": [8, 2.5, 1.5, 2.5]}, {"test": "datum.s==='EAM Pun'", "value": [1.5, 2.5]}], "value": [1, 0]},
    "strokeWidth": {"condition": [{"test": "datum.s==='EAM Pun' || datum.s==='DFT'", "value": 2}], "value": 1.8}
   }},
  {"mark": {"type": "point", "filled": true, "opacity": 1},
   "encoding": {
    "x": {"field": "x", "type": "quantitative"},
    "y": {"field": "g", "type": "quantitative"},
    "color": {"field": "s", "type": "nominal"},
    "shape": {"condition": [{"test": "datum.s==='EAM Grochola'", "value": "triangle-up"}, {"test": "datum.s==='EAM Pun'", "value": "diamond"}, {"test": "datum.s==='ADP'", "value": "square"}], "value": "circle"},
    "size": {"condition": [{"test": "datum.s==='EAM Grochola'", "value": 75}, {"test": "datum.s==='EAM Pun'", "value": 70}, {"test": "datum.s==='ADP'", "value": 52}], "value": 40}
   }}
 ]}
], "spacing": 38, "bounds": "flush",
 "resolve": {"scale": {"x": "independent", "y": "independent", "color": "independent"}, "legend": {"color": "independent"}}},
{"hconcat": [
{"width": 267, "height": 222, "title": "(d) Pt", "data": {"name": "D"},
 "layer": [
  {"data": {"values": [{}]}, "mark": {"type": "rule", "color": "#b4b4b4", "strokeDash": [5, 3], "strokeWidth": 1.5, "clip": true},
   "encoding": {"x": {"datum": 0, "type": "quantitative"}, "y": {"datum": 0, "type": "quantitative"}, "y2": {"datum": 75}}},
  {"mark": {"type": "line", "clip": true},
   "encoding": {
    "x": {"field": "x", "type": "quantitative", "scale": {"domain": [-11.5, 21.5], "nice": false, "zero": false}, "axis": {"values": [-10, 0, 10, 20], "title": "Stress (GPa)"}},
    "y": {"field": "g", "type": "quantitative", "scale": {"domain": [-5.9, 124], "nice": false, "zero": false}, "axis": {"values": [0, 20, 40, 60, 80, 100, 120], "title": "G (GPa)"}},
    "color": {"field": "s", "type": "nominal", "scale": {"domain": ["MT", "EAM Zhou", "EAM OBrien", "ADP", "DFT"], "range": ["#ff0000", "#008000", "#bf00bf", "#0000ff", "#000000"]},
     "legend": {"title": null, "orient": "top-left", "encode": {"symbols": {"update": {
      "shape": {"signal": "['M-3.4,0H3.4M0,-1L0.95,0.65H-0.95Z','M-3.4,0H3.4M0,-1.05L0.9,0L0,1.05L-0.9,0Z','M-3.4,0H3.4M0,-0.85L0.81,-0.26L0.5,0.69L-0.5,0.69L-0.81,-0.26Z','M-3.4,0H3.4M-0.75,-0.75H0.75V0.75H-0.75Z','M-3.4,0H3.4M0.75,0A0.75,0.75,0,1,1,-0.75,0A0.75,0.75,0,1,1,0.75,0Z'][indexof(['MT','EAM Zhou','EAM OBrien','ADP','DFT'],datum.value)]"},
      "strokeDash": {"signal": "[[8,2.5,1.5,2.5],[1.5,2.5],[1.5,2.5],[5.5,2.5],[1,0]][indexof(['MT','EAM Zhou','EAM OBrien','ADP','DFT'],datum.value)]"},
      "fill": {"signal": "['#ff0000','#008000','#bf00bf','#0000ff','#000000'][indexof(['MT','EAM Zhou','EAM OBrien','ADP','DFT'],datum.value)]"},
      "stroke": {"signal": "['#ff0000','#008000','#bf00bf','#0000ff','#000000'][indexof(['MT','EAM Zhou','EAM OBrien','ADP','DFT'],datum.value)]"},
      "strokeWidth": {"value": 2}, "size": {"value": 49}, "opacity": {"value": 1}}}}}},
    "strokeDash": {"condition": [{"test": "datum.s==='MT'", "value": [8, 2.5, 1.5, 2.5]}, {"test": "datum.s==='EAM Zhou' || datum.s==='EAM OBrien'", "value": [1.5, 2.5]}, {"test": "datum.s==='ADP'", "value": [5.5, 2.5]}], "value": [1, 0]},
    "strokeWidth": {"condition": [{"test": "datum.s==='MT' || datum.s==='ADP'", "value": 1.8}], "value": 2}
   }},
  {"mark": {"type": "point", "filled": true, "opacity": 1},
   "encoding": {
    "x": {"field": "x", "type": "quantitative"},
    "y": {"field": "g", "type": "quantitative"},
    "color": {"field": "s", "type": "nominal"},
    "shape": {"condition": [{"test": "datum.s==='MT'", "value": "triangle-up"}, {"test": "datum.s==='EAM Zhou'", "value": "diamond"}, {"test": "datum.s==='EAM OBrien'", "value": "M0,-1L0.951,-0.309L0.588,0.809L-0.588,0.809L-0.951,-0.309Z"}, {"test": "datum.s==='ADP'", "value": "square"}], "value": "circle"},
    "size": {"condition": [{"test": "datum.s==='MT' || datum.s==='EAM Zhou'", "value": 66}, {"test": "datum.s==='EAM OBrien'", "value": 56}, {"test": "datum.s==='ADP'", "value": 52}], "value": 40}
   }}
 ]},
{"width": 266, "height": 222, "title": "(e) Ni", "data": {"name": "E"},
 "layer": [
  {"data": {"values": [{}]}, "mark": {"type": "rule", "color": "#b4b4b4", "strokeDash": [5, 3], "strokeWidth": 1.5, "clip": true},
   "encoding": {"x": {"datum": 0, "type": "quantitative"}, "y": {"datum": 40, "type": "quantitative"}, "y2": {"datum": 95}}},
  {"mark": {"type": "line", "clip": true},
   "encoding": {
    "x": {"field": "x", "type": "quantitative", "scale": {"domain": [-16.75, 21.75], "nice": false, "zero": false}, "axis": {"values": [-10, 0, 10, 20], "title": "Stress (GPa)"}},
    "y": {"field": "g", "type": "quantitative", "scale": {"domain": [35.8, 128.7], "nice": false, "zero": false}, "axis": {"values": [40, 60, 80, 100, 120], "title": "G (GPa)"}},
    "color": {"field": "s", "type": "nominal", "scale": {"domain": ["DFT", "EAM Foiles", "EAM Mishin", "SNAP"], "range": ["#000000", "#ff0000", "#008000", "#0000ff"]},
     "legend": {"title": null, "orient": "top-left", "encode": {"symbols": {"update": {
      "shape": {"signal": "['M-3.4,0H3.4M0.75,0A0.75,0.75,0,1,1,-0.75,0A0.75,0.75,0,1,1,0.75,0Z','M-3.4,0H3.4M0,-1L0.95,0.65H-0.95Z','M-3.4,0H3.4M0,-1.05L0.9,0L0,1.05L-0.9,0Z','M-3.4,0H3.4M-0.75,-0.75H0.75V0.75H-0.75Z'][indexof(['DFT','EAM Foiles','EAM Mishin','SNAP'],datum.value)]"},
      "strokeDash": {"signal": "[[1,0],[8,2.5,1.5,2.5],[1.5,2.5],[1,0]][indexof(['DFT','EAM Foiles','EAM Mishin','SNAP'],datum.value)]"},
      "fill": {"signal": "['#000000','#ff0000','#008000','#0000ff'][indexof(['DFT','EAM Foiles','EAM Mishin','SNAP'],datum.value)]"},
      "stroke": {"signal": "['#000000','#ff0000','#008000','#0000ff'][indexof(['DFT','EAM Foiles','EAM Mishin','SNAP'],datum.value)]"},
      "strokeWidth": {"value": 2}, "size": {"value": 49}, "opacity": {"value": 1}}}}}},
    "strokeDash": {"condition": [{"test": "datum.s==='EAM Foiles'", "value": [8, 2.5, 1.5, 2.5]}, {"test": "datum.s==='EAM Mishin'", "value": [1.5, 2.5]}], "value": [1, 0]},
    "strokeWidth": {"condition": [{"test": "datum.s==='SNAP'", "value": 2.6}, {"test": "datum.s==='EAM Mishin'", "value": 2}], "value": 1.8}
   }},
  {"mark": {"type": "point", "filled": true, "opacity": 1},
   "encoding": {
    "x": {"field": "x", "type": "quantitative"},
    "y": {"field": "g", "type": "quantitative"},
    "color": {"field": "s", "type": "nominal"},
    "shape": {"condition": [{"test": "datum.s==='EAM Foiles'", "value": "triangle-up"}, {"test": "datum.s==='EAM Mishin'", "value": "diamond"}, {"test": "datum.s==='SNAP'", "value": "square"}], "value": "circle"},
    "size": {"condition": [{"test": "datum.s==='EAM Foiles' || datum.s==='EAM Mishin'", "value": 60}, {"test": "datum.s==='SNAP'", "value": 54}], "value": 40}
   }}
 ]},
{"width": 267, "height": 222, "title": "(f) Ag", "data": {"name": "F"},
 "layer": [
  {"data": {"values": [{}]}, "mark": {"type": "rule", "color": "#b4b4b4", "strokeDash": [5, 3], "strokeWidth": 1.5, "clip": true},
   "encoding": {"x": {"datum": 0, "type": "quantitative"}, "y": {"datum": 0, "type": "quantitative"}, "y2": {"datum": 75}}},
  {"mark": {"type": "line", "clip": true},
   "encoding": {
    "x": {"field": "x", "type": "quantitative", "scale": {"domain": [-11.5, 21.5], "nice": false, "zero": false}, "axis": {"values": [-10, -5, 0, 5, 10, 15, 20], "title": "Stress (GPa)"}},
    "y": {"field": "g", "type": "quantitative", "scale": {"domain": [-4.6, 97.1], "nice": false, "zero": false}, "axis": {"values": [0, 20, 40, 60, 80], "title": "G (GPa)"}},
    "color": {"field": "s", "type": "nominal", "scale": {"domain": ["EAM", "MTP", "DFT"], "range": ["#ff0000", "#daa520", "#000000"]},
     "legend": {"title": null, "orient": "top-left", "encode": {"symbols": {"update": {
      "shape": {"signal": "['M-3.4,0H3.4M0,-1L0.95,0.65H-0.95Z','M-3.4,0H3.4M0,-1.05L0.9,0L0,1.05L-0.9,0Z','M-3.4,0H3.4M0.75,0A0.75,0.75,0,1,1,-0.75,0A0.75,0.75,0,1,1,0.75,0Z'][indexof(['EAM','MTP','DFT'],datum.value)]"},
      "strokeDash": {"signal": "[[8,2.5,1.5,2.5],[1.5,2.5],[1,0]][indexof(['EAM','MTP','DFT'],datum.value)]"},
      "fill": {"signal": "['#ff0000','#daa520','#000000'][indexof(['EAM','MTP','DFT'],datum.value)]"},
      "stroke": {"signal": "['#ff0000','#daa520','#000000'][indexof(['EAM','MTP','DFT'],datum.value)]"},
      "strokeWidth": {"value": 2}, "size": {"value": 49}, "opacity": {"value": 1}}}}}},
    "strokeDash": {"condition": [{"test": "datum.s==='EAM'", "value": [8, 2.5, 1.5, 2.5]}, {"test": "datum.s==='MTP'", "value": [1.5, 2.5]}], "value": [1, 0]},
    "strokeWidth": {"condition": [{"test": "datum.s==='EAM'", "value": 1.8}], "value": 2}
   }},
  {"mark": {"type": "point", "filled": true, "opacity": 1},
   "encoding": {
    "x": {"field": "x", "type": "quantitative"},
    "y": {"field": "g", "type": "quantitative"},
    "color": {"field": "s", "type": "nominal"},
    "shape": {"condition": [{"test": "datum.s==='EAM'", "value": "triangle-up"}, {"test": "datum.s==='MTP'", "value": "diamond"}], "value": "circle"},
    "size": {"condition": [{"test": "datum.s==='EAM' || datum.s==='MTP'", "value": 75}], "value": 46}
   }}
 ]}
], "spacing": 42, "bounds": "flush",
 "resolve": {"scale": {"x": "independent", "y": "independent", "color": "independent"}, "legend": {"color": "independent"}}}
],
"columns": 1,
"align": "none",
"spacing": 7,
"resolve": {"scale": {"x": "independent", "y": "independent", "color": "independent"}, "legend": {"color": "independent"}},
"config": {
 "font": "Liberation Sans",
 "view": {"stroke": "#000000", "strokeWidth": 2},
 "axis": {"domain": false, "grid": false, "ticks": true, "tickColor": "#000000", "tickSize": 3, "tickWidth": 1.2, "labelFont": "Liberation Sans", "labelFontSize": 13, "labelColor": "#000000", "labelPadding": 1, "labelFlush": false, "labelOverlap": false, "titleFont": "Liberation Sans", "titleFontSize": 15, "titleFontWeight": "normal", "titleColor": "#000000", "titlePadding": 0},
 "axisX": {"labelPadding": 0, "titlePadding": 2},
 "title": {"font": "Liberation Sans", "fontSize": 17, "fontWeight": "normal", "color": "#000000", "offset": 2},
 "legend": {"offset": 4, "padding": 6, "rowPadding": 1.4, "labelOffset": 10, "symbolOffset": 6, "symbolSize": 49, "labelFont": "Liberation Sans", "labelFontSize": 12, "labelColor": "#000000", "symbolStrokeWidth": 2}
}
}
